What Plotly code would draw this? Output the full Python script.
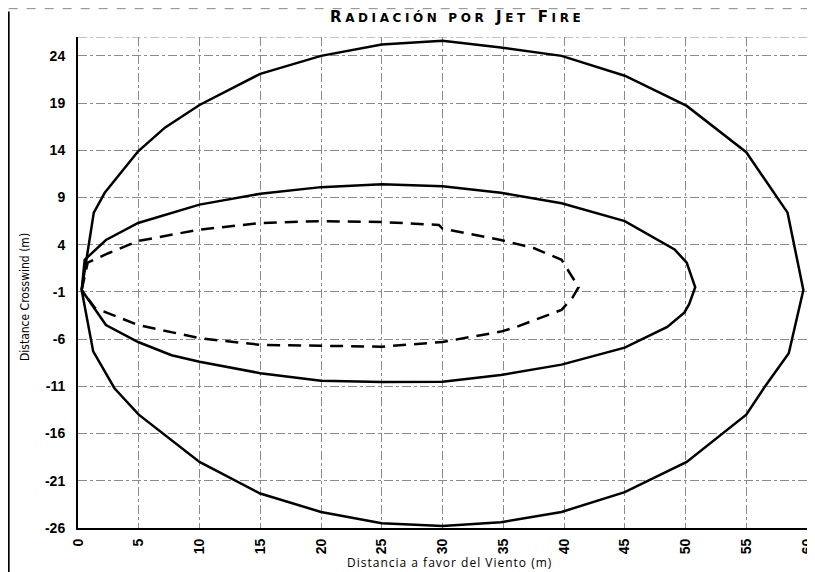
import plotly.graph_objects as go

# ---- data ----
outer_x = [0.3, 1.3, 2.2, 4.95, 7.15, 10, 15, 20, 25, 30, 34.8, 39.8, 45, 50.1, 55, 58.4, 59.7,
           58.5, 56.6, 55, 50.1, 45, 39.8, 34.8, 30, 25, 20, 15, 10, 5, 3.0, 1.25, 0.3]
outer_y = [-0.8, 7.4, 9.5, 13.9, 16.4, 18.8, 22.1, 24, 25.2, 25.6, 24.9, 24, 21.9, 18.7, 13.8, 7.4, -0.8,
           -7.5, -10.9, -14, -19, -22.2, -24.3, -25.4, -25.8, -25.5, -24.3, -22.35, -19, -14, -11.2, -7.3, -0.8]

mid_x = [0.3, 0.55, 2.3, 4.95, 10, 15, 20, 25, 30, 34.8, 39.8, 45, 49.1, 50.1, 50.8, 50.3, 49.9,
         48.5, 45, 39.8, 34.8, 30, 25, 20, 15, 10, 7.7, 4.95, 2.3, 0.3]
mid_y = [-0.8, 2.4, 4.5, 6.3, 8.25, 9.4, 10.1, 10.4, 10.2, 9.5, 8.4, 6.5, 3.5, 2.1, -0.5, -2.3, -3.2,
         -4.7, -6.9, -8.7, -9.8, -10.5, -10.55, -10.4, -9.6, -8.4, -7.7, -6.3, -4.5, -0.8]

dash_x = [0.3, 0.8, 2.5, 4.95, 10, 15, 20, 25, 29.7, 30, 34.8, 37.5, 39.8, 41.2, 40.7, 39.8,
          36.1, 34.8, 30, 25, 20, 15, 10, 4.95, 1.4, 0.3]
dash_y = [-0.8, 2.1, 3.1, 4.4, 5.6, 6.3, 6.5, 6.4, 6.1, 5.7, 4.5, 3.65, 2.4, -0.5, -1.6, -2.9,
          -4.7, -5.2, -6.3, -6.8, -6.7, -6.6, -5.9, -4.5, -2.7, -0.8]

x_ticks = [0, 5, 10, 15, 20, 25, 30, 35, 40, 45, 50, 55, 60]
y_ticks = [24, 19, 14, 9, 4, -1, -6, -11, -16, -21, -26]

sc = "<span style='font-size:12px'>"
title_html = ("<span style='letter-spacing:3.6px'>R" + sc + "ADIACIÓN POR</span> "
              "J" + sc + "ET</span> F" + sc + "IRE</span></span>")
x_title = "<span style='letter-spacing:1px'>Distancia a favor del Viento (m)</span>"
y_title = "Distance Crosswind (m)"

fig = go.Figure()
fig.add_trace(go.Scatter(x=outer_x, y=outer_y, mode="lines",
                         line=dict(color="black", width=2.5), showlegend=False))
fig.add_trace(go.Scatter(x=mid_x, y=mid_y, mode="lines",
                         line=dict(color="black", width=2.5), showlegend=False))
fig.add_trace(go.Scatter(x=dash_x, y=dash_y, mode="lines",
                         line=dict(color="black", width=2.5, dash="13px,8px"), showlegend=False))

tickfont = dict(family="Liberation Sans, Arial, sans-serif", size=14, color="black", weight="bold")

fig.update_xaxes(range=[0, 60], tickvals=x_ticks, ticktext=[str(v) for v in x_ticks],
                 tickangle=-90, tickfont=tickfont, showgrid=True, gridcolor="#8a8a8a",
                 griddash="dashdot", gridwidth=1, zeroline=False, showline=True,
                 linecolor="black", linewidth=2, mirror=False, ticks="", ticklabelstandoff=3,
                 automargin=False)
fig.update_yaxes(range=[-26, 26], tickvals=y_ticks, ticktext=[str(v) for v in y_ticks],
                 tickfont=tickfont, showgrid=True, gridcolor="#8a8a8a", griddash="dashdot",
                 gridwidth=1, zeroline=False, showline=True, linecolor="black", linewidth=2,
                 mirror=True, ticks="", ticklabelstandoff=8, automargin=False)

# page body adds an 8px offset; figure is sized to fill the remaining window
fig.update_layout(
    width=807, height=564,
    margin=dict(l=70, r=8, t=29, b=44, autoexpand=False),
    paper_bgcolor="white", plot_bgcolor="white",
    annotations=[
        dict(text=title_html, xref="paper", yref="paper", x=0.52, y=1.041,
             xanchor="center", yanchor="middle", showarrow=False,
             font=dict(family="DejaVu Sans, Liberation Sans, sans-serif", size=15, color="black", weight="bold")),
        dict(text=x_title, xref="paper", yref="paper", x=0.51, y=-0.07,
             xanchor="center", yanchor="middle", showarrow=False,
             font=dict(family="Open Sans, Lato, sans-serif", size=12, color="black")),
        dict(text=y_title, xref="paper", yref="paper", x=-0.073, y=0.47, textangle=-90,
             xanchor="center", yanchor="middle", showarrow=False,
             font=dict(family="Liberation Sans Narrow, DejaVu Sans Condensed, Liberation Sans, sans-serif",
                       size=12, color="black")),
    ],
    shapes=[
        dict(type="line", xref="x", yref="y", x0=0, x1=60, y0=26, y1=26,
             line=dict(color="#8a8a8a", width=1, dash="dashdot")),
        dict(type="line", xref="paper", yref="paper", x0=-0.0951, x1=-0.0951, y0=1.052, y1=-0.09,
             line=dict(color="black", width=2)),
        dict(type="line", xref="paper", yref="paper", x0=-0.0951, x1=1.0, y0=1.0577, y1=1.0577,
             line=dict(color="#888888", width=1, dash="dash")),
    ],
)

fig.write_html("out.html")
